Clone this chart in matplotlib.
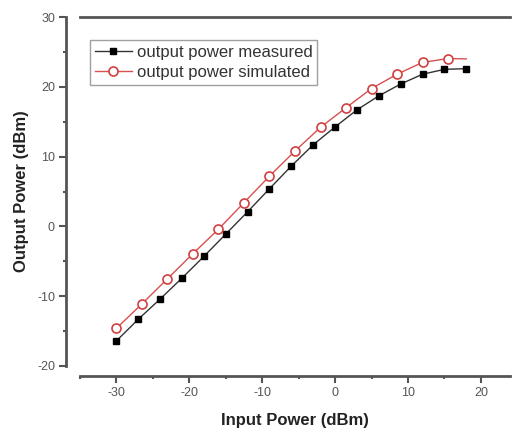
import matplotlib
matplotlib.use("Agg")
import matplotlib.pyplot as plt
from matplotlib.ticker import MultipleLocator

plt.rcParams['font.family'] = ['Liberation Sans', 'DejaVu Sans']
plt.rcParams['axes.unicode_minus'] = False

# Measured data
x_meas = [-30, -27, -24, -21, -18, -15, -12, -9, -6, -3, 0, 3, 6, 9, 12, 15, 18]
y_meas = [-16.4, -13.3, -10.4, -7.4, -4.3, -1.1, 2.1, 5.4, 8.65, 11.7, 14.25,
          16.7, 18.7, 20.4, 21.8, 22.5, 22.6]

# Simulated data
x_sim = [-30, -26.5, -23, -19.5, -16, -12.5, -9, -5.5, -2, 1.5, 5, 8.5, 12, 15.5, 18]
y_sim = [-14.6, -11.1, -7.5, -3.9, -0.4, 3.4, 7.2, 10.8, 14.2, 17.0, 19.75,
         21.8, 23.5, 24.05, 24.0]

labels = ["output power measured", "output power simulated"]

fig = plt.figure(figsize=(5.14, 4.34), dpi=100)
ax = fig.add_axes([80/514, 1-366/434, 430/514, (366-17)/434])

ax.plot(x_meas, y_meas, color='#333333', lw=1.0, marker='s', ms=5,
        mfc='black', mec='black', label=labels[0])
ax.plot(x_sim, y_sim, color='#d85050', lw=1.0, marker='o', ms=6.5,
        mfc='white', mec='#d04040', mew=1.2, markevery=list(range(len(x_sim)-1)),
        label=labels[1])

ax.set_xlim(-35, 24)
ax.set_ylim(-20, 30)

ax.xaxis.set_major_locator(MultipleLocator(10))
ax.xaxis.set_minor_locator(MultipleLocator(5))
ax.yaxis.set_major_locator(MultipleLocator(10))
ax.yaxis.set_minor_locator(MultipleLocator(5))

ax.spines['right'].set_visible(False)
ax.spines['left'].set_position(('outward', 10))
ax.spines['bottom'].set_position(('outward', 7))
for s in ['left', 'bottom', 'top']:
    ax.spines[s].set_linewidth(2.0)
    ax.spines[s].set_color('#555555')

ax.tick_params(axis='both', which='major', direction='out', length=5, width=1.5,
               color='#555555', labelsize=9, labelcolor='#555555', pad=3)
ax.tick_params(axis='both', which='minor', direction='out', length=2.5, width=1.5,
               color='#555555')
ax.tick_params(top=False, which='both')

ax.set_xlabel("Input Power (dBm)", fontsize=12, fontweight='bold', color='#222222', labelpad=10)
ax.set_ylabel("Output Power (dBm)", fontsize=12, fontweight='bold', color='#222222', labelpad=6)

leg = ax.legend(loc='upper left', bbox_to_anchor=(10/430, 1-23/349), fontsize=12,
                frameon=True, fancybox=False, handlelength=2.2, handletextpad=0.3,
                labelspacing=0.3, borderpad=0.3, borderaxespad=0)
leg.get_frame().set_edgecolor('#888888')
leg.get_frame().set_linewidth(1.0)
for t in leg.get_texts():
    t.set_color('#333333')

fig.savefig("out.png", dpi=100)
